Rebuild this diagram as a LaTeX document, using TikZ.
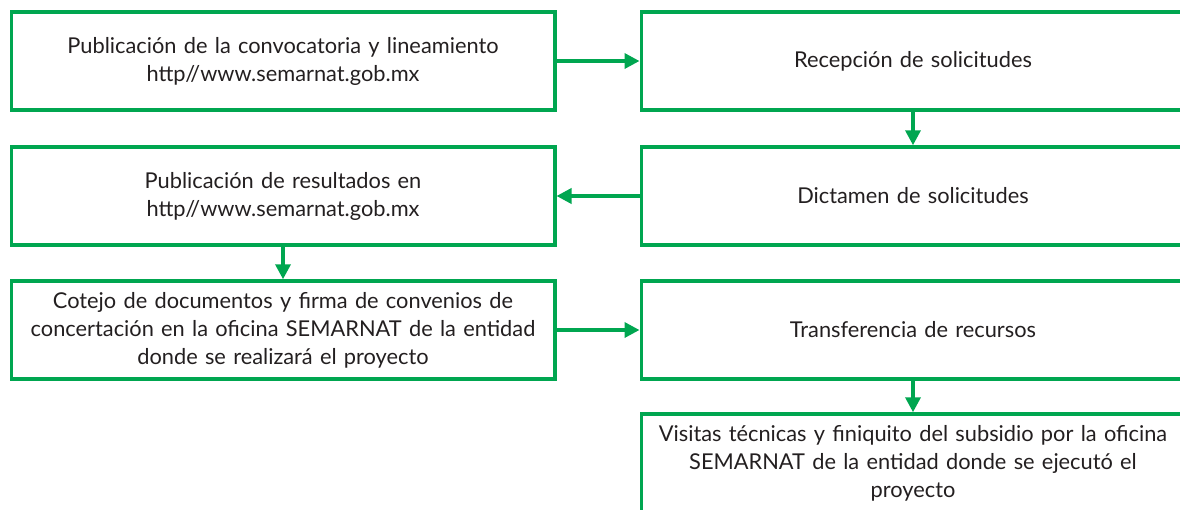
\documentclass[tikz,border=0pt]{standalone}
\usepackage{fontspec}
\setmainfont{Lato}
\usepackage{xcolor}
\usetikzlibrary{arrows.meta,positioning,calc}
\definecolor{verde}{RGB}{0,166,80}
\definecolor{texto}{RGB}{35,31,32}

\begin{document}
\begin{tikzpicture}[x=1pt, y=-1pt,
  every node/.style={font=\fontsize{21.8}{28}\selectfont, text=texto},
  caja/.style={draw=verde, line width=3.5pt, minimum width=543.5pt, minimum height=98pt,
    inner sep=0pt, align=center, text width=530pt},
  flecha/.style={draw=verde, line width=3.5pt, -{Triangle[length=15pt,width=15pt]}}]
\useasboundingbox (0,0) rectangle (1180,509);
\node[caja] (conv) at (283,61) {Publicación de la convocatoria y lineamiento\\http//www.semarnat.gob.mx};
\node[caja] (recep) at (913,61) {Recepción de solicitudes};
\node[caja] (result) at (283,196) {Publicación de resultados en\\http//www.semarnat.gob.mx};
\node[caja] (dicta) at (913,196) {Dictamen de solicitudes};
\node[caja] (cotejo) at (283,330) {Cotejo de documentos y firma de convenios de\\concertación en la oficina SEMARNAT de la entidad\\donde se realizará el proyecto};
\node[caja] (transf) at (913,330) {Transferencia de recursos};
\node[caja] (visit) at (913,463) {Visitas técnicas y finiquito del subsidio por la oficina\\SEMARNAT de la entidad donde se ejecutó el\\proyecto};
\draw[flecha] (conv.east) -- (recep.west);
\draw[flecha] (recep.south) -- (dicta.north);
\draw[flecha] (dicta.west) -- (result.east);
\draw[flecha] (result.south) -- (cotejo.north);
\draw[flecha] (cotejo.east) -- (transf.west);
\draw[flecha] (transf.south) -- (visit.north);
\end{tikzpicture}
\end{document}
